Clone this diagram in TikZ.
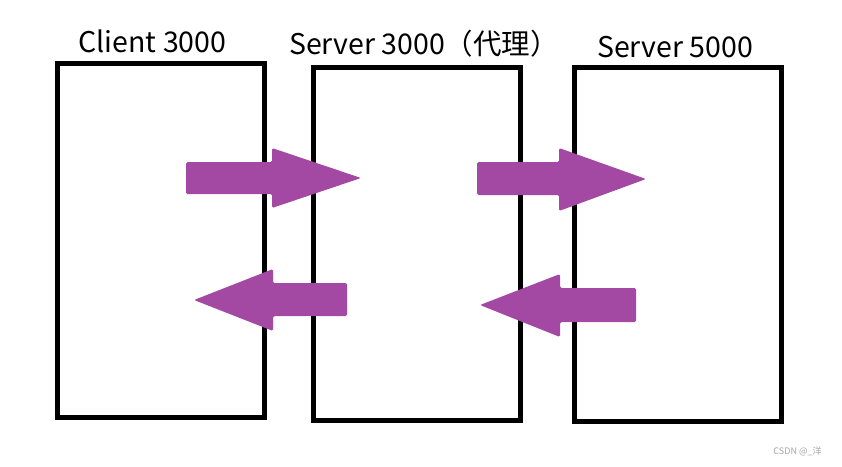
\documentclass[tikz,border=0pt]{standalone}
\usepackage{fontspec}
\setmainfont{Noto Sans CJK SC}
\definecolor{paintpurple}{RGB}{163,73,164}
\definecolor{wmgray}{RGB}{165,165,165}
\tikzset{
  box/.style={draw=black, line width=5pt, fill=none, inner sep=0pt, outer sep=0pt},
  blockarrow/.style={fill=paintpurple, draw=none, rounded corners=1.5pt},
  title/.style={anchor=base, inner sep=0pt, font=\fontsize{28.5}{32}\selectfont},
}
\begin{document}
\begin{tikzpicture}[x=1pt,y=-1pt]
\useasboundingbox (0,0) rectangle (842,466);
\fill[white] (0,0) rectangle (842,466);
% boxes
\node[box, minimum width=207pt, minimum height=354pt] (client) at (161,240) {};
\node[box, minimum width=207pt, minimum height=352.5pt] (proxy) at (417,243.75) {};
\node[box, minimum width=207pt, minimum height=353.5pt] (server) at (678,244.25) {};
% titles
\node[title] (tclient) at (152.5,52) {Client 3000};
\node[title] (tproxy) at (424,54) {Server 3000（代理）};
\node[title] (tserver) at (675,57) {Server 5000};
% arrows (on top of boxes)
\fill[blockarrow] (186,162) -- (272,162) -- (272,148) -- (361,178) -- (272,208) -- (272,194) -- (186,194) -- cycle;
\fill[blockarrow] (477,162) -- (559,162) -- (559,148) -- (646,179) -- (559,211) -- (559,195) -- (477,195) -- cycle;
\fill[blockarrow] (347,283) -- (273,283) -- (273,269) -- (194,300) -- (273,331) -- (273,316) -- (347,316) -- cycle;
\fill[blockarrow] (636,288) -- (560,288) -- (560,274) -- (480,305) -- (560,337) -- (560,322) -- (636,322) -- cycle;
% watermark
\node[inner sep=0pt, text=wmgray, font=\fontsize{9}{11}\selectfont] (wm) at (797.5,451) {CSDN @\_洋};
\end{tikzpicture}
\end{document}
